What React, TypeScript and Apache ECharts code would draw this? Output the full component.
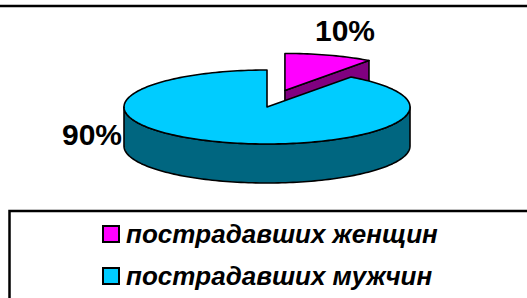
import React, { useEffect, useRef } from 'react';
import * as echarts from 'echarts';

const categories = ['пострадавших женщин', 'пострадавших мужчин'];
const values = [10, 90];
const topColors = ['#FF00FF', '#00CCFF'];
const sideColors = ['#800080', '#006680'];
const exploded = [true, false];

// layout (pixels)
const CX = 267;
const CY = 107;
const RX = 143;
const RY = 37;
const DEPTH = 39;
const EXPLODE_DIST = 58;
const EXPLODE_KY = 0.3;
const LABEL_POS: number[][] = [
  [345, 30],
  [92, 134],
];
const FONT = 'Arial, "Liberation Sans", sans-serif';

const total = values.reduce((a, b) => a + b, 0);

function makeRender(idx: number) {
  return (params: any, api: any) => {
    const v = api.value(0) as number;
    let start = 0;
    for (let j = 0; j < idx; j++) start += values[j];
    const a0 = (start / total) * Math.PI * 2;
    const a1 = ((start + v) / total) * Math.PI * 2;
    const mid = (a0 + a1) / 2;
    const ox = exploded[idx] ? EXPLODE_DIST * Math.sin(mid) : 0;
    const oy = exploded[idx] ? -EXPLODE_DIST * EXPLODE_KY * Math.cos(mid) : 0;
    const cx = CX + ox;
    const cy = CY + oy;
    const pt = (a: number, d = 0) => [cx + RX * Math.sin(a), cy - RY * Math.cos(a) + d];
    const arc = (s: number, e: number, d: number) => {
      const n = Math.max(2, Math.ceil((e - s) / (Math.PI / 120)));
      const pts: number[][] = [];
      for (let k = 0; k <= n; k++) pts.push(pt(s + ((e - s) * k) / n, d));
      return pts;
    };
    const stroke = { stroke: '#000', lineWidth: 1.6, lineJoin: 'round' };
    const children: any[] = [];
    const wall = (a: number) => {
      const p = pt(a);
      children.push({
        type: 'polygon',
        shape: { points: [[cx, cy], p, [p[0], p[1] + DEPTH], [cx, cy + DEPTH]] },
        style: { fill: sideColors[idx], ...stroke },
      });
    };
    if (Math.sin(a0) < -1e-6) wall(a0);
    if (Math.sin(a1) > 1e-6) wall(a1);
    const s = Math.max(a0, Math.PI / 2);
    const e = Math.min(a1, (Math.PI * 3) / 2);
    if (e > s) {
      const top = arc(s, e, 0);
      const bot = arc(s, e, DEPTH).reverse();
      children.push({
        type: 'polygon',
        shape: { points: top.concat(bot) },
        style: { fill: sideColors[idx], ...stroke },
      });
    }
    children.push({
      type: 'polygon',
      shape: { points: [[cx, cy]].concat(arc(a0, a1, 0)) },
      style: { fill: topColors[idx], ...stroke },
    });
    children.push({
      type: 'text',
      style: {
        text: Math.round((v / total) * 100) + '%',
        x: LABEL_POS[idx][0],
        y: LABEL_POS[idx][1],
        fill: '#000',
        fontSize: 30,
        fontWeight: 'bold',
        fontFamily: FONT,
        align: 'center',
        verticalAlign: 'middle',
      },
    });
    return { type: 'group', children };
  };
}

export default function App() {
  const ref = useRef<HTMLDivElement>(null);
  useEffect(() => {
    if (!ref.current) return;
    const chart = echarts.init(ref.current, undefined, { renderer: 'svg' });
    chart.setOption({
      animation: false,
      backgroundColor: '#fff',
      color: topColors,
      legend: {
        data: categories,
        orient: 'vertical',
        left: 102,
        top: 221,
        padding: 0,
        itemWidth: 16,
        itemHeight: 16,
        itemGap: 16,
        icon: 'rect',
        selectedMode: false,
        itemStyle: { borderColor: '#000', borderWidth: 2 },
        textStyle: {
          fontSize: 26,
          fontWeight: 'bold',
          fontStyle: 'italic',
          fontFamily: FONT,
          color: '#000',
          padding: [0, 0, 0, 2],
        },
      },
      graphic: [
        {
          type: 'line',
          shape: { x1: 0, y1: 6, x2: 527, y2: 6 },
          style: { stroke: '#000', lineWidth: 2.5 },
        },
        {
          type: 'rect',
          shape: { x: 9.5, y: 211, width: 600, height: 200 },
          style: { fill: 'none', stroke: '#000', lineWidth: 2.5 },
        },
      ],
      series: categories.map((name, i) => ({
        type: 'custom',
        name,
        coordinateSystem: 'none',
        data: [values[i]],
        itemStyle: { color: topColors[i] },
        renderItem: makeRender(i),
        z: 2,
      })),
    });
    return () => chart.dispose();
  }, []);
  return (
    <div
      ref={ref}
      style={{ position: 'fixed', left: 0, top: 0, width: 527, height: 298 }}
    />
  );
}
